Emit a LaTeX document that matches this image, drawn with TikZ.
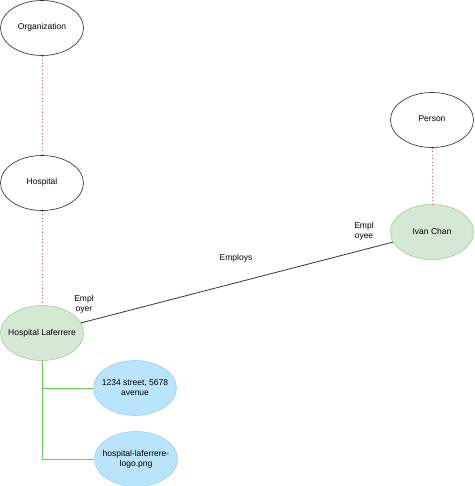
\documentclass[tikz,border=0pt]{standalone}
\usepackage{fontspec}
\setmainfont{Liberation Sans}
\usetikzlibrary{shapes.geometric}
\definecolor{grfill}{HTML}{D5E8D4}
\definecolor{grline}{HTML}{9CC48A}
\definecolor{blfill}{HTML}{B9E4FB}
\definecolor{blline}{HTML}{8ACFF3}
\definecolor{dotred}{HTML}{E06060}
\definecolor{brgreen}{HTML}{66CC55}
\newcommand{\zb}[1]{\makebox[0pt]{\begin{tabular}{@{}c@{}}#1\end{tabular}}}
\begin{document}
\begin{tikzpicture}[x=1pt,y=-1pt,
  lbl/.style={font=\fontsize{8.5}{10}\selectfont, align=center, inner sep=0pt},
  ell/.style={ellipse, minimum width=83pt, minimum height=55pt, inner sep=0pt, font=\fontsize{8.5}{10}\selectfont},
  cls/.style={ell, draw=black!85, line width=0.6pt, fill=white},
  inst/.style={ell, draw=grline, line width=0.5pt, fill=grfill},
  attr/.style={ell, draw=blline, line width=0.5pt, fill=blfill},
  sub/.style={dotred, dash pattern=on 1pt off 2.5pt, line width=0.6pt},
  prop/.style={brgreen, line width=0.9pt},
  rel/.style={black!80, line width=0.8pt}]
\useasboundingbox (0,0) rectangle (474,486);
\node[cls] (org) at (42,28) {\zb{Organization}};
\node[cls] (hosp) at (42,183) {\zb{Hospital}};
\node[inst] (hl) at (42,333) {\zb{Hospital Laferrere}};
\node[attr] (addr) at (135,388) {\zb{1234 street, 5678\\avenue}};
\node[attr] (logo) at (136,459) {\zb{hospital-laferrere-\\logo.png}};
\node[cls] (person) at (432,120) {\zb{Person}};
\node[inst] (ivan) at (432,232) {\zb{Ivan Chan}};
\coordinate (j1) at (42,388);
\coordinate (j2) at (42,459);
\draw[sub] (org) -- (hosp);
\draw[sub] (hosp) -- (hl);
\draw[sub] (person) -- (ivan);
\draw[prop] (hl.south) -- (j2) -- (logo.west);
\draw[prop] (j1) -- (addr.west);
\draw[rel] (hl) -- (ivan);
\node[lbl] (employs) at (236,258) {Employs};
\node[lbl] (er) at (84,304) {Empl\\oyer};
\node[lbl] (ee) at (364,231) {Empl\\oyee};
\end{tikzpicture}
\end{document}
